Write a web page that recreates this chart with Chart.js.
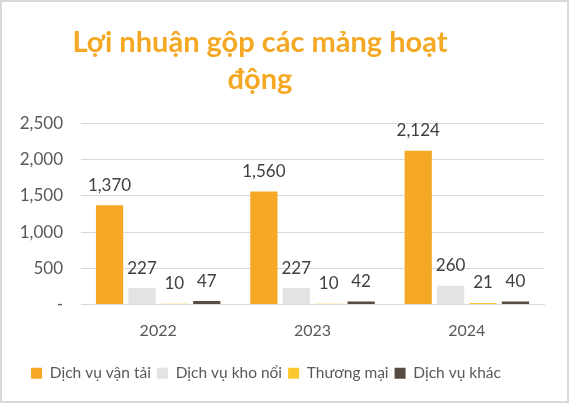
<!DOCTYPE html>
<html><head><meta charset="utf-8">
<script src="https://cdn.jsdelivr.net/npm/chart.js@4/dist/chart.umd.min.js"></script>
<style>html,body{margin:0;padding:0;background:#fff}#wrap{width:569px;height:403px;position:relative}</style>
</head><body><div id="wrap"><canvas id="c" width="569" height="403"></canvas></div>
<script>
const categories = ['2022', '2023', '2024'];
const seriesNames = ['Dịch vụ vận tải', 'Dịch vụ kho nổi', 'Thương mại', 'Dịch vụ khác'];
const vanTai = [1370, 1560, 2124];
const khoNoi = [227, 227, 260];
const thuongMai = [10, 10, 21];
const khac = [47, 42, 40];
const yTicks = [0, 500, 1000, 1500, 2000, 2500];
const colors = ['#F5A823', '#E3E3E3', '#FDC82F', '#584C42'];
const FONT = 'Lato, "Open Sans", sans-serif';

const borderPlugin = {
  id: 'border',
  beforeDraw(chart) {
    const ctx = chart.ctx;
    ctx.save();
    ctx.fillStyle = '#fff';
    ctx.fillRect(0, 0, chart.width, chart.height);
    ctx.strokeStyle = '#d9d9d9';
    ctx.lineWidth = 2;
    ctx.strokeRect(1, 1, chart.width - 2, chart.height - 2);
    ctx.restore();
  },
  afterLayout(chart) {
    const t = chart.titleBlock;
    if (t) { t.left -= 17; t.right -= 17; }
    const l = chart.legend;
    if (l) { l.left -= 11; l.right -= 11; l.top += 4; l.bottom += 4; }
  }
};
const labelPlugin = {
  id: 'valueLabels',
  afterDatasetsDraw(chart) {
    const ctx = chart.ctx;
    ctx.save();
    ctx.font = '17px ' + FONT;
    ctx.fillStyle = '#404040';
    ctx.textAlign = 'center';
    ctx.textBaseline = 'middle';
    chart.data.datasets.forEach((ds, i) => {
      chart.getDatasetMeta(i).data.forEach((bar, j) => {
        ctx.fillText(ds.data[j].toLocaleString('en-US'), bar.x, bar.y - 20);
      });
    });
    ctx.restore();
  }
};

const series = [vanTai, khoNoi, thuongMai, khac];
new Chart(document.getElementById('c'), {
  type: 'bar',
  data: {
    labels: categories,
    datasets: series.map((d, i) => ({
      label: seriesNames[i], data: d, backgroundColor: colors[i], borderWidth: 0,
      categoryPercentage: 0.84, barPercentage: 0.84
    }))
  },
  options: {
    responsive: false, animation: false,
    layout: { padding: { top: 8, left: 10, right: 25, bottom: 16 } },
    plugins: {
      title: {
        display: true, text: ['Lợi nhuận gộp các mảng hoạt', 'động'],
        color: '#F5A823', font: { family: FONT, size: 29, weight: 'bold', lineHeight: 1.25 },
        padding: { top: 17, bottom: 26 }
      },
      legend: {
        position: 'bottom',
        labels: { color: '#595959', font: { family: FONT, size: 15.5 }, boxWidth: 11, boxHeight: 11, padding: 6 }
      },
      tooltip: { enabled: false }
    },
    scales: {
      x: {
        afterFit(axis) { axis.height = 51; },
        grid: { display: false, drawTicks: false },
        border: { color: '#d9d9d9' },
        ticks: { color: '#595959', font: { family: FONT, size: 16 }, padding: 17 }
      },
      y: {
        min: 0, max: 2500,
        afterBuildTicks(axis) { axis.ticks = yTicks.map(v => ({ value: v })); },
        afterFit(axis) { axis.width = 71; },
        grid: { color: '#d9d9d9', drawTicks: false },
        border: { display: false },
        ticks: {
          color: '#595959', font: { family: FONT, size: 17 }, padding: 18,
          callback: v => v === 0 ? '-' : v.toLocaleString('en-US')
        }
      }
    }
  },
  plugins: [borderPlugin, labelPlugin]
});
</script></body></html>
